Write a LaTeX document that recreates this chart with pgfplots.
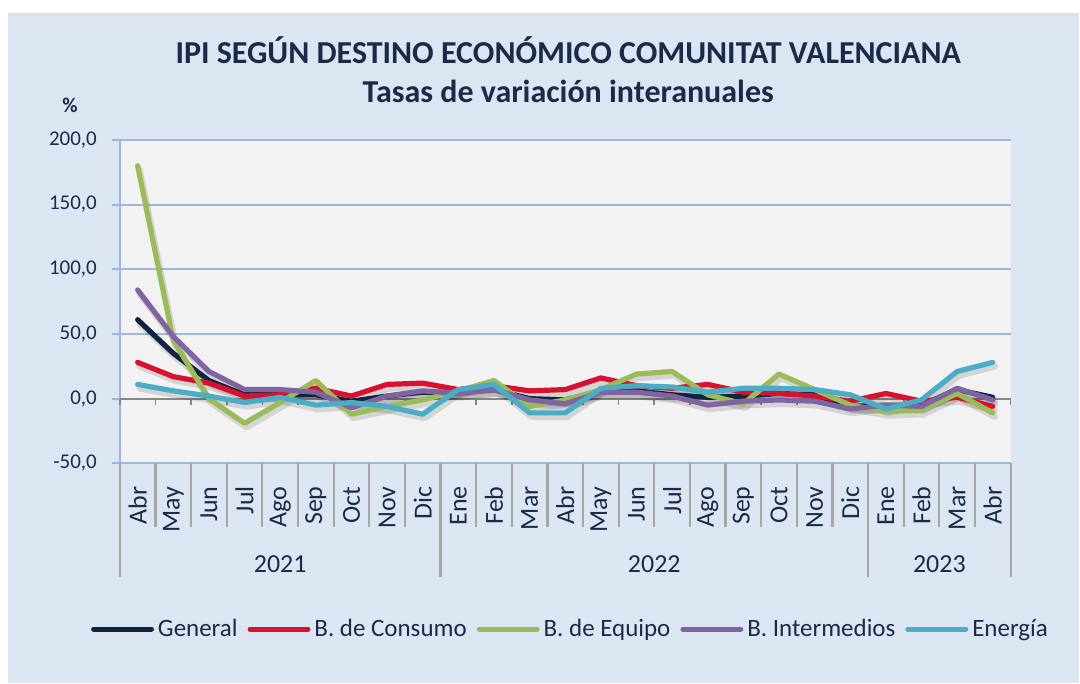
\documentclass[border=0pt]{standalone}
\usepackage{fontspec}
\setmainfont{Carlito}
\usepackage{pgfplots}
\pgfplotsset{compat=1.18}
\usepackage{pgfplotstable}
\definecolor{bg}{HTML}{DCE6F2}
\definecolor{plotbg}{HTML}{F2F2F2}
\definecolor{gridc}{HTML}{9DB7DB}
\definecolor{txt}{HTML}{1A2A48}
\definecolor{cgen}{HTML}{0F2440}
\definecolor{ccon}{HTML}{D8112E}
\definecolor{cequ}{HTML}{9BBB59}
\definecolor{cint}{HTML}{8064A2}
\definecolor{cene}{HTML}{4BACC6}
\definecolor{sepc}{HTML}{A6A6A6}
\definecolor{zeroc}{HTML}{868686}

\pgfplotstableread{
i  gen  con  equ  int  ene
0  61   28   180  84   11
1  35   17   45   48   6
2  14   12   0    21   2
3  3    2    -19  7    -3
4  3    3    -3   7    1
5  3    8    14   5    -5
6  -2   2    -12  -7   -3
7  2    11   -6   2    -6
8  5    12   -1   6    -12
9  5    7    6    4    7
10 7    10   14   7    11
11 0    6    -6   -1   -11
12 -1   7    -1   -4   -11
13 6    16   7    5    8
14 6    10   19   5    10
15 3    8    21   2    9
16 1    11   3    -5   5
17 2    5    -4   -2   8
18 4    4    19   -1   8
19 3    2    7    -2   7
20 -6   -2   -5   -8   3
21 -5   4    -10  -5   -8
22 -5   -2   -9   -6   -1
23 7    1    4    8    21
24 1    -6   -11  -1   28
}\data

\begin{document}
\begin{tikzpicture}
\fill[white] (0,0) rectangle (540pt,342pt);
\fill[bg] (4pt,0) rectangle (540pt,334pt);
\draw[black!12, line width=1.5pt] (4pt,334.5pt) -- (540pt,334.5pt);
\node[font=\bfseries\fontsize{16}{18}\selectfont, text=txt] at (284.5pt,317pt) {IPI SEGÚN DESTINO ECONÓMICO COMUNITAT VALENCIANA};
\node[font=\bfseries\fontsize{16}{18}\selectfont, text=txt] at (284.5pt,296pt) {Tasas de variación interanuales};
\node[font=\bfseries\fontsize{10.5}{12}\selectfont, text=txt] at (35pt,289pt) {\%};
\begin{axis}[
  at={(60pt,110pt)}, anchor=south west,
  scale only axis, width=446pt, height=162pt,
  xmin=-0.5, xmax=24.5, ymin=-50, ymax=200,
  ytick={-50,0,50,100,150,200},
  xtick={0,...,24},
  xticklabels={Abr,May,Jun,Jul,Ago,Sep,Oct,Nov,Dic,Ene,Feb,Mar,Abr,May,Jun,Jul,Ago,Sep,Oct,Nov,Dic,Ene,Feb,Mar,Abr},
  axis lines*=left,
  axis line style={gridc, line width=1pt},
  axis background/.style={fill=plotbg},
  ymajorgrids, grid style={gridc, line width=1pt},
  x tick style={draw=none},
  y tick style={gridc, line width=1pt},
  tick align=outside, major tick length=4pt,
  /pgf/number format/.cd, fixed, fixed zerofill, precision=1, use comma, assume math mode=true,
  /pgfplots/.cd,
  yticklabel style={xshift=-4pt, font=\fontsize{10.5}{12}\selectfont, text=txt},
  xticklabel style={yshift=-4pt, rotate=90, anchor=east, font=\fontsize{13}{14}\selectfont, text=txt},
  clip=false,
  legend style={at={(0.507,-0.512)}, anchor=center, draw=none, fill=none,
    font=\fontsize{12.5}{14}\selectfont, text=txt, legend columns=5,
    /tikz/every even column/.append style={column sep=3pt},
    inner sep=0pt},
  legend image code/.code={\draw[#1, line width=2.5pt] (0pt,0pt) -- (29pt,0pt);},
  every axis plot/.append style={line width=2.6pt, line join=round, line cap=round},
]
\draw[zeroc, line width=1pt] (axis cs:-0.5,0) -- (axis cs:24.5,0);
\pgfplotsinvokeforeach{-0.5,0.5,...,24.5}{
  \draw[zeroc, line width=0.8pt] (axis cs:#1,0) -- ([yshift=-3pt]axis cs:#1,0);
  \draw[sepc, line width=1.1pt] (axis cs:#1,-50) -- ([yshift=-32pt]axis cs:#1,-50);
}
\pgfplotsinvokeforeach{-0.5,8.5,20.5,24.5}{
  \draw[sepc, line width=1.1pt] (axis cs:#1,-50) -- ([yshift=-57pt]axis cs:#1,-50);
}
\node[font=\fontsize{13}{14}\selectfont, text=txt] at ([yshift=-50.5pt]axis cs:4,-50) {2021};
\node[font=\fontsize{13}{14}\selectfont, text=txt] at ([yshift=-50.5pt]axis cs:14.5,-50) {2022};
\node[font=\fontsize{13}{14}\selectfont, text=txt] at ([yshift=-50.5pt]axis cs:22.5,-50) {2023};
% shadows
\addplot[black, opacity=0.12, line width=3.2pt, forget plot, xshift=1pt, yshift=-2pt] table[x=i,y=gen]{\data};
\addplot[black, opacity=0.12, line width=3.2pt, forget plot, xshift=1pt, yshift=-2pt] table[x=i,y=con]{\data};
\addplot[black, opacity=0.12, line width=3.2pt, forget plot, xshift=1pt, yshift=-2pt] table[x=i,y=equ]{\data};
\addplot[black, opacity=0.12, line width=3.2pt, forget plot, xshift=1pt, yshift=-2pt] table[x=i,y=int]{\data};
\addplot[black, opacity=0.12, line width=3.2pt, forget plot, xshift=1pt, yshift=-2pt] table[x=i,y=ene]{\data};
% series
\addplot[cgen] table[x=i,y=gen]{\data};
\addlegendentry{General}
\addplot[ccon] table[x=i,y=con]{\data};
\addlegendentry{B. de Consumo}
\addplot[cequ] table[x=i,y=equ]{\data};
\addlegendentry{B. de Equipo}
\addplot[cint] table[x=i,y=int]{\data};
\addlegendentry{B. Intermedios}
\addplot[cene] table[x=i,y=ene]{\data};
\addlegendentry{Energía}
\end{axis}
\end{tikzpicture}
\end{document}
